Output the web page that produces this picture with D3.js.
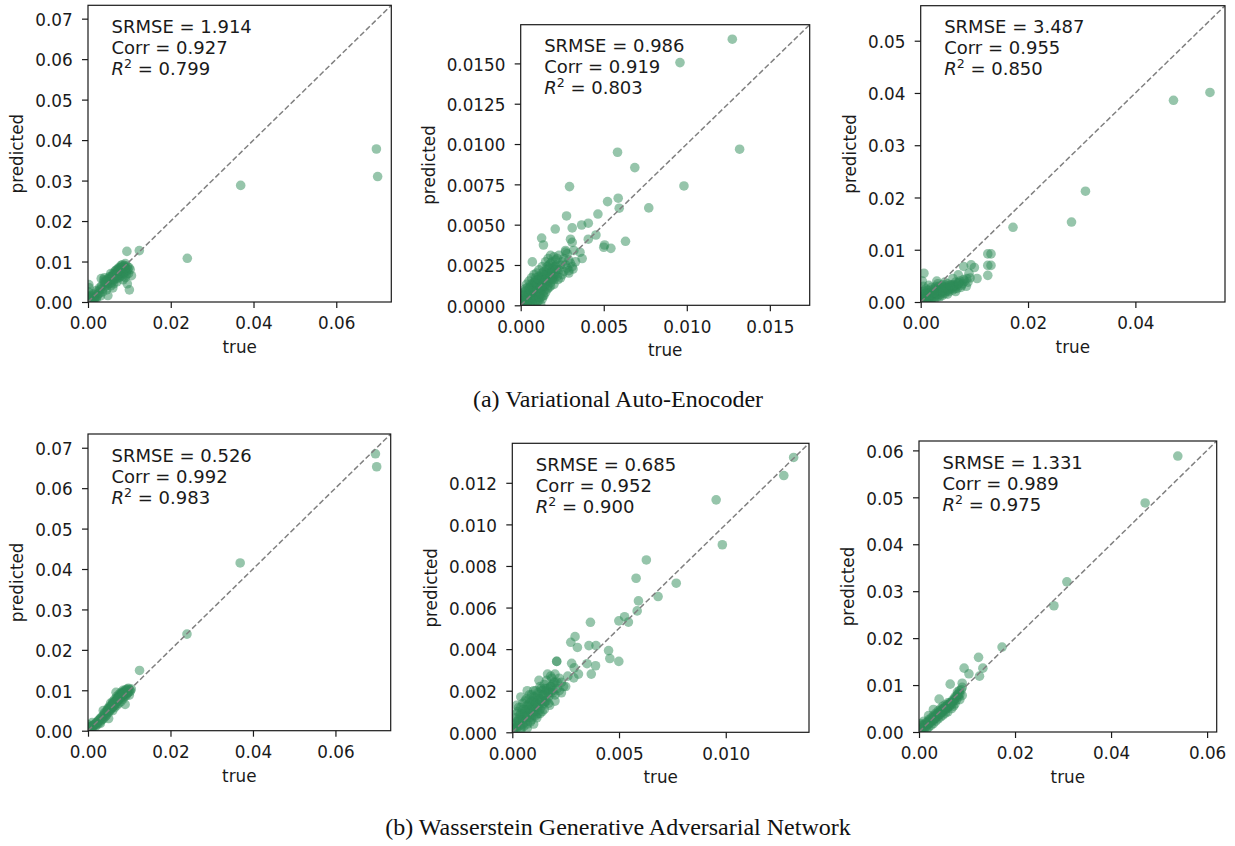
<!DOCTYPE html>
<html><head><meta charset="utf-8">
<script src="https://cdn.jsdelivr.net/npm/d3@7"></script>
<style>body{margin:0;background:#fff}svg{display:block}</style>
</head><body>
<svg id="c" width="1235" height="846"></svg>
<script>
// ---------------- DATA ----------------
const captionA = "(a) Variational Auto-Enocoder";
const captionB = "(b) Wasserstein Generative Adversarial Network";
const xLabel = "true", yLabel = "predicted";

// stats: SRMSE, Corr, R^2
const vaeStats1 = ["1.914", "0.927", "0.799"];
const vaeStats2 = ["0.986", "0.919", "0.803"];
const vaeStats3 = ["3.487", "0.955", "0.850"];
const wganStats1 = ["0.526", "0.992", "0.983"];
const wganStats2 = ["0.685", "0.952", "0.900"];
const wganStats3 = ["1.331", "0.989", "0.975"];

// tick values
const ticksX1 = [0, 0.02, 0.04, 0.06];
const ticksY1 = [0, 0.01, 0.02, 0.03, 0.04, 0.05, 0.06, 0.07];
const ticksX2 = [0, 0.005, 0.010, 0.015];
const ticksY2 = [0, 0.0025, 0.005, 0.0075, 0.010, 0.0125, 0.015];
const ticksX3 = [0, 0.02, 0.04];
const ticksY3 = [0, 0.01, 0.02, 0.03, 0.04, 0.05];
const ticksX5 = [0, 0.005, 0.010];
const ticksY5 = [0, 0.002, 0.004, 0.006, 0.008, 0.010, 0.012];
const ticksX6 = [0, 0.02, 0.04, 0.06];
const ticksY6 = [0, 0.01, 0.02, 0.03, 0.04, 0.05, 0.06];

// axis upper limits (x and y share the same limit)
const limits = [0.0733, 0.0174, 0.0567, 0.0734, 0.0139, 0.0620];

// points [true, predicted]
const vaePoints1 = [
 [0.0697,0.0378],[0.0700,0.0310],[0.0369,0.0288],[0.0240,0.0108],[0.0094,0.0125],[0.0124,0.0127],[0.0100,0.0030],
 [0.0002,0.0043],[0.0003,0.0035],[0.0001,0.0025],[0.0002,0.0015],[0.0005,0.0005],[0.0008,0.0010],[0.0010,0.0003],
 [0.0015,0.0012],[0.0020,0.0008],[0.0025,0.0020],[0.0030,0.0015],[0.0035,0.0025],[0.0030,0.0032],[0.0038,0.0055],
 [0.0040,0.0060],[0.0042,0.0045],[0.0045,0.0030],[0.0048,0.0016],[0.0050,0.0050],[0.0052,0.0062],[0.0055,0.0070],
 [0.0055,0.0040],[0.0058,0.0055],[0.0060,0.0065],[0.0062,0.0045],[0.0065,0.0075],[0.0065,0.0058],[0.0068,0.0068],
 [0.0070,0.0080],[0.0070,0.0050],[0.0072,0.0072],[0.0075,0.0060],[0.0075,0.0085],[0.0078,0.0075],[0.0080,0.0090],
 [0.0080,0.0065],[0.0082,0.0080],[0.0085,0.0055],[0.0085,0.0070],[0.0088,0.0085],[0.0090,0.0095],[0.0090,0.0060],
 [0.0092,0.0075],[0.0095,0.0088],[0.0098,0.0070],[0.0102,0.0080],[0.0105,0.0065],[0.0095,0.0045],[0.0060,0.0035],
 [0.0032,0.0058],[0.0020,0.0028],[0.0012,0.0020],
 [0.0001,0.0005],[0.0002,0.0009],[0.0004,0.0002],[0.0006,0.0014],[0.0007,0.0004],[0.0009,0.0007],[0.0011,0.0015],
 [0.0013,0.0006],[0.0016,0.0018],[0.0018,0.0011],[0.0022,0.0014],[0.0024,0.0026],[0.0027,0.0022],[0.0028,0.0035],
 [0.0033,0.0040],[0.0036,0.0033],[0.0039,0.0048],[0.0041,0.0038],[0.0044,0.0052],[0.0047,0.0042],[0.0049,0.0058],
 [0.0051,0.0046],[0.0053,0.0054],[0.0056,0.0063],[0.0057,0.0048],[0.0059,0.0060],[0.0061,0.0070],[0.0063,0.0055],
 [0.0064,0.0068],[0.0066,0.0062],[0.0067,0.0078],[0.0069,0.0058],[0.0071,0.0068],[0.0073,0.0082],[0.0074,0.0065],
 [0.0076,0.0078],[0.0077,0.0070],[0.0079,0.0086],[0.0081,0.0072],[0.0083,0.0092],[0.0084,0.0064],[0.0086,0.0080],
 [0.0087,0.0074],[0.0089,0.0090],[0.0091,0.0082],[0.0093,0.0068],[0.0096,0.0080],[0.0099,0.0085],
 [0.0050,0.0055],[0.0054,0.0058],[0.0058,0.0062],[0.0062,0.0066],[0.0066,0.0070],[0.0070,0.0074],[0.0074,0.0078],
 [0.0078,0.0082],[0.0082,0.0086],[0.0086,0.0088],[0.0060,0.0058],[0.0070,0.0066],[0.0080,0.0076],[0.0090,0.0084],
 [0.0045,0.0050],[0.0040,0.0052],[0.0003,0.0008],[0.0006,0.0003],[0.0001,0.0012],[0.0015,0.0005]
];
const vaePoints2 = [
 [0.01274,0.0165],[0.00959,0.01505],[0.01318,0.00968],[0.00583,0.00949],[0.00687,0.00854],[0.00983,0.0074],
 [0.00294,0.00736],[0.00523,0.00643],[0.00587,0.00664],[0.00593,0.00602],[0.00771,0.00604],[0.00465,0.00566],
 [0.00276,0.00554],[0.00407,0.00509],[0.00367,0.00498],[0.0031,0.0048],[0.00208,0.00473],[0.00126,0.00417],
 [0.00137,0.00374],[0.0007,0.00269],[0.0030,0.0041],[0.0031,0.0039],[0.00453,0.00436],[0.00407,0.0041],
 [0.00505,0.00374],[0.0050,0.0036],[0.00543,0.00353],[0.00631,0.00397],[0.00357,0.00329],[0.0037,0.0029],
 [0.0027,0.0033],[0.00315,0.00225],[0.0029,0.00215],
 [0.00005,0.0001],[0.0001,0.0004],[0.00015,0.0008],[0.0002,0.0002],[0.00025,0.0010],[0.0003,0.0005],[0.00035,0.0013],
 [0.0004,0.0001],[0.00045,0.0007],[0.0005,0.0015],[0.0005,0.0003],[0.00055,0.0011],[0.0006,0.0006],[0.00065,0.0017],
 [0.0007,0.0002],[0.0007,0.0013],[0.00075,0.0009],[0.0008,0.0019],[0.0008,0.0004],[0.00085,0.0015],[0.0009,0.0011],
 [0.0009,0.0001],[0.00095,0.0020],[0.0010,0.0007],[0.0010,0.0016],[0.00105,0.0013],[0.0011,0.0003],[0.0011,0.0022],
 [0.00115,0.0009],[0.0012,0.0018],[0.0012,0.0005],[0.00125,0.0014],[0.0013,0.0024],[0.0013,0.0010],[0.00135,0.0006],
 [0.0014,0.0019],[0.00145,0.0012],[0.0015,0.0027],[0.0015,0.0008],[0.00155,0.0022],[0.0016,0.0015],[0.00165,0.0029],
 [0.0017,0.0011],[0.0017,0.0025],[0.00175,0.0018],[0.0018,0.0031],[0.0018,0.0014],[0.00185,0.0021],[0.0019,0.0027],
 [0.00195,0.0017],[0.0020,0.0024],[0.0020,0.0030],[0.0021,0.0019],[0.0021,0.0028],[0.0022,0.0022],[0.00225,0.0016],
 [0.0023,0.0031],[0.0024,0.0025],[0.0025,0.0019],[0.0026,0.0029],[0.0027,0.0034],[0.0028,0.0023],[0.0029,0.0020],
 [0.0030,0.0026],[0.0003,0.0000],[0.0006,0.0000],[0.0012,0.00005],[0.0000,0.0003],[0.0000,0.0007],
 [0.0001,0.0001],[0.0002,0.0006],[0.0003,0.0009],[0.0003,0.0002],[0.0004,0.0011],[0.0004,0.0004],[0.0005,0.0007],
 [0.0006,0.0013],[0.0006,0.0002],[0.0007,0.0010],[0.0007,0.0005],[0.0008,0.0014],[0.0008,0.0008],[0.0009,0.0017],
 [0.0009,0.0005],[0.0010,0.0011],[0.0010,0.0002],[0.0011,0.0018],[0.0011,0.0007],[0.0012,0.0015],[0.0012,0.0009],
 [0.0013,0.0020],[0.0013,0.0004],[0.0014,0.0016],[0.0014,0.0009],[0.0015,0.0013],[0.0015,0.0019],[0.0016,0.0010],
 [0.0016,0.0024],[0.0017,0.0015],[0.0017,0.0020],[0.0018,0.0012],[0.0018,0.0026],[0.0019,0.0016],[0.0019,0.0023],
 [0.0020,0.0019],[0.0020,0.0013],[0.0021,0.0024],[0.0022,0.0018],[0.0022,0.0029],[0.0023,0.0022],[0.0024,0.0017],
 [0.0025,0.0027],[0.0026,0.0021],[0.0027,0.0025],[0.0028,0.0032],[0.0029,0.0028],[0.0031,0.0024],[0.0032,0.0034],
 [0.0033,0.0027],
 [0.0002,0.0003],[0.0003,0.0007],[0.0004,0.0003],[0.0005,0.0010],[0.0006,0.0004],[0.0006,0.0009],[0.0007,0.0012],
 [0.0008,0.0006],[0.0008,0.0011],[0.0009,0.0014],[0.0009,0.0003],[0.0010,0.0009],[0.0010,0.0013],[0.0011,0.0005],
 [0.0011,0.0016],[0.0012,0.0011],[0.0012,0.0007],[0.0013,0.0017],[0.0013,0.0012],[0.0014,0.0006],[0.0014,0.0021],
 [0.0015,0.0016],[0.0016,0.0012],[0.0016,0.0019],[0.0017,0.0023],[0.0018,0.0017],[0.0019,0.0020],[0.0020,0.0016],
 [0.0021,0.0022],[0.0022,0.0025]
];
const vaePoints3 = [
 [0.0539,0.0401],[0.0471,0.0386],[0.0307,0.0212],[0.0281,0.0153],[0.0172,0.0143],[0.0125,0.0092],[0.0131,0.0092],
 [0.0125,0.0070],[0.0131,0.0070],[0.0125,0.0051],[0.0105,0.0045],[0.0100,0.0066],[0.0094,0.0071],[0.0006,0.0055],
 [0.0001,0.0003],[0.0002,0.0010],[0.0003,0.0020],[0.0004,0.0005],[0.0006,0.0015],[0.0008,0.0002],[0.0010,0.0010],
 [0.0010,0.0025],[0.0012,0.0005],[0.0015,0.0018],[0.0015,0.0003],[0.0018,0.0012],[0.0020,0.0028],[0.0020,0.0006],
 [0.0023,0.0016],[0.0025,0.0022],[0.0025,0.0009],[0.0028,0.0030],[0.0030,0.0013],[0.0030,0.0020],[0.0032,0.0035],
 [0.0035,0.0010],[0.0035,0.0026],[0.0038,0.0018],[0.0040,0.0032],[0.0040,0.0012],[0.0043,0.0022],[0.0045,0.0038],
 [0.0045,0.0016],[0.0048,0.0027],[0.0050,0.0015],[0.0050,0.0035],[0.0053,0.0020],[0.0055,0.0028],[0.0058,0.0033],
 [0.0060,0.0023],[0.0060,0.0045],[0.0063,0.0030],[0.0065,0.0038],[0.0065,0.0020],[0.0068,0.0026],[0.0070,0.0034],
 [0.0070,0.0052],[0.0073,0.0040],[0.0075,0.0028],[0.0078,0.0035],[0.0080,0.0068],[0.0080,0.0043],[0.0085,0.0030],
 [0.0088,0.0038],[0.0090,0.0055],[0.0092,0.0046],[0.0030,0.0040],[0.0015,0.0032],[0.0005,0.0030],[0.0003,0.0040],
 [0.0002,0.0001],[0.0004,0.0012],[0.0005,0.0022],[0.0007,0.0008],[0.0009,0.0016],[0.0011,0.0003],[0.0013,0.0013],
 [0.0014,0.0022],[0.0016,0.0008],[0.0018,0.0018],[0.0019,0.0004],[0.0021,0.0012],[0.0022,0.0024],[0.0024,0.0016],
 [0.0026,0.0006],[0.0027,0.0026],[0.0029,0.0016],[0.0031,0.0010],[0.0033,0.0022],[0.0034,0.0030],[0.0036,0.0014],
 [0.0037,0.0021],[0.0039,0.0026],[0.0041,0.0018],[0.0042,0.0028],[0.0044,0.0033],[0.0046,0.0020],[0.0047,0.0025],
 [0.0049,0.0030],[0.0051,0.0022],[0.0054,0.0025],[0.0057,0.0030],[0.0059,0.0027],[0.0062,0.0033],[0.0064,0.0026],
 [0.0067,0.0031],[0.0071,0.0037],[0.0076,0.0032],[0.0082,0.0040],[0.0086,0.0045],
 [0.0010,0.0006],[0.0020,0.0014],[0.0030,0.0016],[0.0040,0.0022],[0.0050,0.0026],[0.0060,0.0030],[0.0070,0.0036],
 [0.0025,0.0018],[0.0045,0.0028],[0.0055,0.0032]
];
const wganPoints1 = [
 [0.0697,0.0685],[0.0700,0.0653],[0.0369,0.0415],[0.0240,0.0239],[0.0125,0.0149],
 [0.0002,0.0003],[0.0005,0.0008],[0.0008,0.0005],[0.0010,0.0012],[0.0012,0.0008],[0.0015,0.0015],[0.0018,0.0010],
 [0.0020,0.0020],[0.0022,0.0015],[0.0025,0.0025],[0.0028,0.0020],[0.0030,0.0030],[0.0030,0.0018],[0.0033,0.0026],
 [0.0035,0.0036],[0.0037,0.0050],[0.0038,0.0030],[0.0040,0.0042],[0.0042,0.0035],[0.0045,0.0048],[0.0045,0.0038],
 [0.0048,0.0055],[0.0050,0.0045],[0.0052,0.0060],[0.0055,0.0052],[0.0055,0.0068],[0.0058,0.0058],[0.0060,0.0072],
 [0.0060,0.0050],[0.0062,0.0065],[0.0065,0.0078],[0.0065,0.0058],[0.0068,0.0070],[0.0070,0.0085],[0.0070,0.0063],
 [0.0072,0.0076],[0.0075,0.0090],[0.0075,0.0068],[0.0078,0.0082],[0.0080,0.0095],[0.0080,0.0072],[0.0083,0.0088],
 [0.0085,0.0078],[0.0088,0.0098],[0.0090,0.0085],[0.0092,0.0102],[0.0095,0.0092],[0.0098,0.0105],[0.0100,0.0088],
 [0.0103,0.0098],[0.0105,0.0103],[0.0068,0.0095],[0.0085,0.0100],[0.0010,0.0020],[0.0000,0.0015],[0.0003,0.0010],
 [0.0050,0.0030],[0.0090,0.0065],
 [0.0004,0.0006],[0.0007,0.0010],[0.0011,0.0009],[0.0014,0.0013],[0.0017,0.0016],[0.0021,0.0018],[0.0024,0.0022],
 [0.0027,0.0027],[0.0032,0.0032],[0.0034,0.0028],[0.0039,0.0038],[0.0041,0.0045],[0.0044,0.0041],[0.0047,0.0051],
 [0.0049,0.0048],[0.0051,0.0055],[0.0053,0.0050],[0.0056,0.0060],[0.0057,0.0055],[0.0059,0.0065],[0.0061,0.0060],
 [0.0063,0.0070],[0.0064,0.0062],[0.0066,0.0072],[0.0067,0.0066],[0.0069,0.0078],[0.0071,0.0073],[0.0073,0.0082],
 [0.0074,0.0076],[0.0076,0.0086],[0.0077,0.0080],[0.0079,0.0090],[0.0081,0.0084],[0.0082,0.0093],[0.0084,0.0082],
 [0.0086,0.0095],[0.0087,0.0088],[0.0089,0.0092],[0.0091,0.0096],[0.0093,0.0088],[0.0094,0.0098],[0.0096,0.0094],
 [0.0099,0.0096],[0.0101,0.0101],
 [0.0050,0.0052],[0.0054,0.0057],[0.0058,0.0062],[0.0062,0.0066],[0.0066,0.0070],[0.0070,0.0075],[0.0074,0.0079],
 [0.0078,0.0084],[0.0082,0.0088],[0.0086,0.0091],[0.0090,0.0094],[0.0094,0.0100],[0.0060,0.0068],[0.0072,0.0080],
 [0.0084,0.0090],[0.0096,0.0103]
];
const wganPoints2 = [
 [0.01318,0.01322],[0.01272,0.01235],[0.00955,0.01118],[0.00984,0.00902],[0.00628,0.00829],[0.0058,0.00741],
 [0.00768,0.00717],[0.00683,0.00653],[0.00591,0.00632],[0.00585,0.00584],[0.00526,0.00556],[0.00499,0.00536],
 [0.00544,0.0053],[0.00366,0.00529],[0.00294,0.0046],[0.00274,0.00433],[0.00305,0.00408],[0.00359,0.00417],
 [0.00392,0.00417],[0.00451,0.00393],[0.00457,0.00355],[0.00499,0.00341],[0.0039,0.0032],[0.0037,0.0028],
 [0.0035,0.0033],[0.00278,0.00332],[0.00208,0.00341],[0.00208,0.00341],[0.0029,0.0031],[0.0031,0.0028],[0.00288,0.00262],
 [0.00005,0.0001],[0.0001,0.0004],[0.00015,0.0007],[0.0002,0.0002],[0.00025,0.0010],[0.0003,0.0005],[0.00035,0.0008],
 [0.0004,0.0012],[0.0004,0.0001],[0.00045,0.0006],[0.0005,0.0014],[0.0005,0.0009],[0.00055,0.0003],[0.0006,0.0011],
 [0.00065,0.0016],[0.0007,0.0007],[0.0007,0.0002],[0.00075,0.0013],[0.0008,0.0010],[0.0008,0.0018],[0.00085,0.0005],
 [0.0009,0.0015],[0.0009,0.0008],[0.00095,0.0012],[0.0010,0.0020],[0.0010,0.0004],[0.00105,0.0017],[0.0011,0.0010],
 [0.0011,0.0014],[0.00115,0.0007],[0.0012,0.0019],[0.0012,0.0012],[0.00125,0.0025],[0.0013,0.0016],[0.0013,0.0009],
 [0.00135,0.0021],[0.0014,0.0013],[0.00145,0.0018],[0.0015,0.0023],[0.0015,0.0011],[0.00155,0.0015],[0.0016,0.0020],
 [0.00165,0.0028],[0.0017,0.0017],[0.00175,0.0013],[0.0018,0.0022],[0.00185,0.0026],[0.0019,0.0019],[0.00195,0.0024],
 [0.0020,0.0015],[0.0021,0.0021],[0.0022,0.0026],[0.0023,0.0019],[0.0024,0.0022],[0.0004,0.0017],[0.0007,0.0020],
 [0.0002,0.0013],[0.0000,0.0005],
 [0.0001,0.0002],[0.0002,0.0005],[0.0002,0.0009],[0.0003,0.0012],[0.0003,0.0003],[0.0004,0.0007],[0.0005,0.0011],
 [0.0005,0.0004],[0.0006,0.0008],[0.0006,0.0015],[0.0007,0.0011],[0.0007,0.0004],[0.0008,0.0014],[0.0008,0.0007],
 [0.0009,0.0018],[0.0009,0.0011],[0.0010,0.0015],[0.0010,0.0008],[0.0011,0.0020],[0.0011,0.0012],[0.0012,0.0016],
 [0.0012,0.0009],[0.0013,0.0022],[0.0013,0.0014],[0.0014,0.0018],[0.0014,0.0010],[0.0015,0.0021],[0.0015,0.0014],
 [0.0016,0.0017],[0.0016,0.0025],[0.0017,0.0021],[0.0017,0.0014],[0.0018,0.0019],[0.0018,0.0027],[0.0019,0.0023],
 [0.0020,0.0018],[0.0020,0.0028],[0.0021,0.0024],[0.0022,0.0020],[0.0023,0.0024],[0.0025,0.0022],[0.0026,0.0027],
 [0.0002,0.0003],[0.0003,0.0006],[0.0004,0.0009],[0.0004,0.0002],[0.0005,0.0006],[0.0006,0.0010],[0.0006,0.0005],
 [0.0007,0.0013],[0.0007,0.0008],[0.0008,0.0011],[0.0008,0.0016],[0.0009,0.0006],[0.0009,0.0013],[0.0010,0.0010],
 [0.0010,0.0017],[0.0011,0.0014],[0.0011,0.0008],[0.0012,0.0018],[0.0012,0.0013],[0.0013,0.0016],[0.0013,0.0011],
 [0.0014,0.0020],[0.0014,0.0015],[0.0015,0.0018],[0.0016,0.0021],[0.0016,0.0015],[0.0017,0.0019],[0.0018,0.0022],
 [0.0019,0.0020],[0.0020,0.0024]
];
const wganPoints3 = [
 [0.0539,0.0588],[0.0471,0.0488],[0.0308,0.0320],[0.0281,0.0269],[0.0173,0.0181],[0.0124,0.0159],[0.0094,0.0136],
 [0.0104,0.0124],[0.0133,0.0136],[0.0126,0.0119],[0.0065,0.0102],[0.0090,0.0104],[0.0042,0.0070],[0.0084,0.0088],
 [0.0085,0.0069],
 [0.0002,0.0003],[0.0005,0.0015],[0.0005,0.0003],[0.0008,0.0008],[0.0010,0.0016],[0.0010,0.0002],[0.0013,0.0010],
 [0.0015,0.0020],[0.0016,0.0006],[0.0018,0.0015],[0.0020,0.0026],[0.0020,0.0010],[0.0023,0.0020],[0.0025,0.0030],
 [0.0025,0.0014],[0.0028,0.0024],[0.0030,0.0035],[0.0030,0.0018],[0.0033,0.0028],[0.0035,0.0040],[0.0035,0.0023],
 [0.0038,0.0032],[0.0040,0.0045],[0.0040,0.0028],[0.0043,0.0037],[0.0045,0.0050],[0.0045,0.0032],[0.0048,0.0042],
 [0.0050,0.0055],[0.0050,0.0036],[0.0053,0.0046],[0.0055,0.0058],[0.0055,0.0040],[0.0058,0.0050],[0.0060,0.0062],
 [0.0060,0.0043],[0.0063,0.0054],[0.0065,0.0060],[0.0068,0.0050],[0.0070,0.0065],[0.0072,0.0055],[0.0075,0.0075],
 [0.0075,0.0060],[0.0078,0.0068],[0.0080,0.0085],[0.0082,0.0075],[0.0085,0.0080],[0.0088,0.0090],[0.0090,0.0078],
 [0.0090,0.0095],[0.0030,0.0048],[0.0020,0.0035],[0.0010,0.0023],[0.0003,0.0018],
 [0.0003,0.0006],[0.0006,0.0009],[0.0009,0.0012],[0.0012,0.0015],[0.0014,0.0012],[0.0017,0.0020],[0.0019,0.0017],
 [0.0022,0.0024],[0.0024,0.0021],[0.0027,0.0029],[0.0029,0.0025],[0.0032,0.0033],[0.0034,0.0030],[0.0037,0.0038],
 [0.0039,0.0035],[0.0042,0.0042],[0.0044,0.0039],[0.0047,0.0047],[0.0049,0.0044],[0.0052,0.0051],[0.0054,0.0048],
 [0.0057,0.0055],[0.0059,0.0052],[0.0062,0.0058],[0.0064,0.0056],[0.0067,0.0062],[0.0069,0.0060],[0.0072,0.0066],
 [0.0074,0.0070],[0.0077,0.0073],[0.0080,0.0078],[0.0083,0.0082],
 [0.0020,0.0020],[0.0030,0.0029],[0.0040,0.0040],[0.0050,0.0049],[0.0060,0.0058],[0.0070,0.0068],[0.0080,0.0080],
 [0.0045,0.0043],[0.0055,0.0053],[0.0065,0.0063]
];

// ---------------- LAYOUT ----------------
const panels = [
  {pts: vaePoints1,  stats: vaeStats1,  xt: ticksX1, yt: ticksY1, fx: ".2f", fy: ".2f", box: [88, 5.3, 391.3, 302]},
  {pts: vaePoints2,  stats: vaeStats2,  xt: ticksX2, yt: ticksY2, fx: ".3f", fy: ".4f", box: [520.7, 24.7, 809.7, 305.3]},
  {pts: vaePoints3,  stats: vaeStats3,  xt: ticksX3, yt: ticksY3, fx: ".2f", fy: ".2f", box: [920.7, 5.7, 1225, 302]},
  {pts: wganPoints1, stats: wganStats1, xt: ticksX1, yt: ticksY1, fx: ".2f", fy: ".2f", box: [88, 434, 390.7, 730.7]},
  {pts: wganPoints2, stats: wganStats2, xt: ticksX5, yt: ticksY5, fx: ".3f", fy: ".3f", box: [512.3, 443.3, 809, 732.3]},
  {pts: wganPoints3, stats: wganStats3, xt: ticksX6, yt: ticksY6, fx: ".2f", fy: ".2f", box: [919, 441, 1216.7, 732]}
];
const FONT = "'DejaVu Sans', sans-serif";
const TICK_FS = 16.8, LABEL_FS = 16.8, NOTE_FS = 18;
const INK = "#1a1a1a";

const svg = d3.select("#c");
const defs = svg.append("defs");

panels.forEach((p, i) => {
  const [l, t, r, b] = p.box;
  const lim = limits[i];
  const x = d3.scaleLinear().domain([0, lim]).range([l, r]);
  const y = d3.scaleLinear().domain([0, lim]).range([b, t]);
  defs.append("clipPath").attr("id", "clip" + i)
    .append("rect").attr("x", l).attr("y", t).attr("width", r - l).attr("height", b - t);

  const g = svg.append("g");
  const plot = g.append("g").attr("clip-path", `url(#clip${i})`);
  plot.selectAll("circle").data(p.pts).join("circle")
    .attr("cx", d => x(d[0])).attr("cy", d => y(d[1])).attr("r", 4.8)
    .attr("fill", "#2e8b57").attr("fill-opacity", 0.5);
  plot.append("line")
    .attr("x1", x(0)).attr("y1", y(0)).attr("x2", x(lim)).attr("y2", y(lim))
    .attr("stroke", "#808080").attr("stroke-width", 1.5).attr("stroke-dasharray", "5.5,2.6");

  // axes
  const xa = g.append("g").attr("transform", `translate(0,${b})`)
    .call(d3.axisBottom(x).tickValues(p.xt).tickFormat(d3.format(p.fx)).tickSizeInner(6).tickSizeOuter(0).tickPadding(9.4));
  const ya = g.append("g").attr("transform", `translate(${l},0)`)
    .call(d3.axisLeft(y).tickValues(p.yt).tickFormat(d3.format(p.fy)).tickSizeInner(6).tickSizeOuter(0).tickPadding(9.3));
  [xa, ya].forEach(a => {
    a.attr("font-family", FONT).attr("font-size", TICK_FS);
    a.select(".domain").remove();
    a.selectAll(".tick line").attr("stroke", INK).attr("stroke-width", 1.2);
    a.selectAll(".tick text").attr("fill", INK);
  });
  ya.selectAll(".tick text").attr("dy", "0.4em");

  // frame
  g.append("rect").attr("x", l).attr("y", t).attr("width", r - l).attr("height", b - t)
    .attr("fill", "none").attr("stroke", INK).attr("stroke-width", 1.2);

  // axis labels
  g.append("text").attr("x", (l + r) / 2).attr("y", b + 51)
    .attr("text-anchor", "middle").attr("font-family", FONT).attr("font-size", LABEL_FS)
    .attr("fill", INK).text(xLabel);
  let maxW = 0;
  ya.selectAll(".tick text").each(function () { maxW = Math.max(maxW, this.getComputedTextLength()); });
  const lx = l - 6 - 9.3 - maxW - 12;
  g.append("text").attr("transform", `translate(${lx},${(t + b) / 2}) rotate(-90)`)
    .attr("text-anchor", "middle").attr("font-family", FONT).attr("font-size", LABEL_FS)
    .attr("fill", INK).text(yLabel);

  // annotation
  const note = g.append("text").attr("font-family", FONT).attr("font-size", NOTE_FS).attr("fill", INK);
  const nx = l + 23.5, ny = t + 27.5, ls = 21;
  note.append("tspan").attr("x", nx).attr("y", ny).text("SRMSE = " + p.stats[0]);
  note.append("tspan").attr("x", nx).attr("y", ny + ls).text("Corr = " + p.stats[1]);
  note.append("tspan").attr("x", nx).attr("y", ny + 2 * ls).attr("font-style", "italic").text("R");
  note.append("tspan").attr("dy", -7).attr("font-size", NOTE_FS * 0.7).text("2");
  note.append("tspan").attr("dy", 7).text(" = " + p.stats[2]);
});

// captions
const capFont = "'Liberation Serif', 'Times New Roman', serif";
svg.append("text").attr("x", 618).attr("y", 406.7).attr("text-anchor", "middle")
  .attr("font-family", capFont).attr("font-size", 24).attr("fill", "#111").text(captionA);
svg.append("text").attr("x", 618).attr("y", 834.7).attr("text-anchor", "middle")
  .attr("font-family", capFont).attr("font-size", 24).attr("fill", "#111").text(captionB);
</script>
</body></html>
